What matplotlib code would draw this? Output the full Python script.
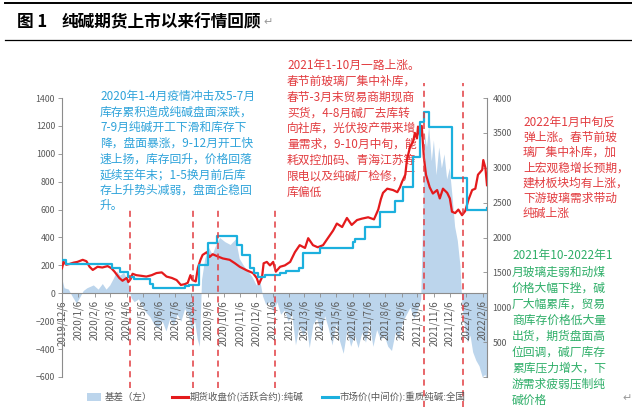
import matplotlib
matplotlib.use("Agg")
import matplotlib.pyplot as plt
import pandas as pd
from matplotlib.lines import Line2D
from matplotlib.patches import Rectangle
from matplotlib.transforms import blended_transform_factory

plt.rcParams["font.family"] = ["Noto Sans CJK SC", "DejaVu Sans"]

# ---- data ----------------------------------------------------------------
FUT_DATES = [
    "2019-12-06", "2019-12-09", "2019-12-14", "2019-12-20", "2019-12-28",
    "2020-01-04", "2020-01-14", "2020-01-21", "2020-01-27", "2020-02-02",
    "2020-02-11", "2020-02-20", "2020-03-01", "2020-03-08", "2020-03-14",
    "2020-03-23", "2020-03-29", "2020-04-06", "2020-04-09", "2020-04-13",
    "2020-04-17", "2020-04-24", "2020-05-04", "2020-05-13", "2020-05-23",
    "2020-06-01", "2020-06-11", "2020-06-20", "2020-06-30", "2020-07-09",
    "2020-07-17", "2020-07-24", "2020-07-30", "2020-08-04", "2020-08-08",
    "2020-08-14", "2020-08-18", "2020-08-23", "2020-08-27", "2020-09-04",
    "2020-09-09", "2020-09-15", "2020-09-24", "2020-10-04", "2020-10-17",
    "2020-10-27", "2020-11-05", "2020-11-18", "2020-11-30", "2020-12-07",
    "2020-12-11", "2020-12-17", "2020-12-20", "2020-12-26", "2021-01-01",
    "2021-01-07", "2021-01-12", "2021-01-20", "2021-01-29", "2021-02-08",
    "2021-02-17", "2021-02-26", "2021-03-08", "2021-03-14", "2021-03-23",
    "2021-04-01", "2021-04-11", "2021-04-20", "2021-04-30", "2021-05-07",
    "2021-05-17", "2021-05-26", "2021-06-04", "2021-06-14", "2021-06-23",
    "2021-07-05", "2021-07-16", "2021-07-24", "2021-07-29", "2021-08-02",
    "2021-08-10", "2021-08-21", "2021-08-29", "2021-09-03", "2021-09-07",
    "2021-09-13", "2021-09-16", "2021-09-22", "2021-09-28", "2021-10-01",
    "2021-10-05", "2021-10-07", "2021-10-11", "2021-10-14", "2021-10-18",
    "2021-10-22", "2021-10-29", "2021-11-04", "2021-11-12", "2021-11-17",
    "2021-11-23", "2021-12-01", "2021-12-06", "2021-12-10", "2021-12-16",
    "2021-12-22", "2021-12-29", "2022-01-04", "2022-01-10", "2022-01-17",
    "2022-01-23", "2022-01-28", "2022-02-05", "2022-02-07", "2022-02-11",
    "2022-02-14",
]
FUT_PRICE = [
    1560, 1650, 1610, 1620, 1640,
    1650, 1680, 1660, 1580, 1535,
    1580, 1570, 1590, 1560, 1510,
    1420, 1380, 1420, 1360, 1400,
    1480, 1460, 1450, 1440, 1460,
    1490, 1500, 1440, 1420, 1390,
    1320, 1330, 1350, 1460, 1390,
    1370, 1560, 1680, 1750, 1790,
    1720, 1760, 1730, 1700, 1680,
    1630, 1580, 1530, 1490, 1420,
    1330, 1430, 1630, 1650, 1600,
    1650, 1510, 1580, 1600, 1650,
    1790, 1890, 1850, 1990, 1890,
    1860, 1890, 1990, 2100, 2200,
    2150, 2280, 2180, 2250, 2270,
    2290, 2260, 2400, 2550, 2640,
    2700, 2680, 2650, 2720, 2800,
    2900, 3110, 3300, 3380, 3500,
    3420, 3590, 3450, 3600, 3150,
    2900, 2720, 2630, 2680, 2560,
    2700, 2640, 2560, 2370, 2350,
    2400, 2320, 2380, 2540, 2680,
    2700, 2900, 2970, 3110, 3000,
    2750,
]

SPOT_DATES = [
    "2019-12-06", "2019-12-13", "2020-03-10", "2020-03-24", "2020-04-08",
    "2020-04-20", "2020-05-20", "2020-05-26", "2020-07-24", "2020-08-01",
    "2020-08-21", "2020-09-06", "2020-09-24", "2020-10-31", "2020-11-09",
    "2020-11-24", "2020-12-01", "2020-12-10", "2020-12-22", "2021-01-20",
    "2021-02-01", "2021-02-24", "2021-03-05", "2021-04-06", "2021-06-06",
    "2021-06-10", "2021-06-29", "2021-07-27", "2021-08-25", "2021-09-09",
    "2021-09-28", "2021-10-11", "2021-10-18", "2021-10-27", "2021-12-10",
    "2022-01-08", "2022-02-14",
]
SPOT_PRICE = [
    1680, 1620, 1560, 1510, 1430,
    1400, 1330, 1270, 1300, 1320,
    1600, 1920, 2020, 1890, 1750,
    1560, 1490, 1440, 1460, 1490,
    1520, 1560, 1780, 1850, 1940,
    1980, 2150, 2370, 2530, 2720,
    3150, 3650, 3800, 3580, 2850,
    2400, 2420,
]

BASIS_DATES = [
    "2019-12-06", "2019-12-10", "2019-12-18", "2019-12-25", "2020-01-02",
    "2020-01-08", "2020-01-15", "2020-01-22", "2020-02-03", "2020-02-12",
    "2020-02-20", "2020-02-27", "2020-03-05", "2020-03-12", "2020-03-18",
    "2020-03-24", "2020-03-31", "2020-04-07", "2020-04-14", "2020-04-20",
    "2020-04-28", "2020-05-06", "2020-05-13", "2020-05-20", "2020-05-27",
    "2020-06-04", "2020-06-12", "2020-06-19", "2020-06-26", "2020-07-03",
    "2020-07-10", "2020-07-17", "2020-07-24", "2020-07-31", "2020-08-06",
    "2020-08-12", "2020-08-17", "2020-08-21", "2020-08-25", "2020-08-31",
    "2020-09-07", "2020-09-14", "2020-09-21", "2020-09-28", "2020-10-08",
    "2020-10-18", "2020-10-28", "2020-11-04", "2020-11-12", "2020-11-20",
    "2020-11-28", "2020-12-06", "2020-12-12", "2020-12-18", "2020-12-24",
    "2020-12-31", "2021-01-07", "2021-01-14", "2021-01-21", "2021-01-28",
    "2021-02-04", "2021-02-11", "2021-02-18", "2021-02-25", "2021-03-04",
    "2021-03-11", "2021-03-16", "2021-03-23", "2021-03-30", "2021-04-07",
    "2021-04-14", "2021-04-21", "2021-04-28", "2021-05-05", "2021-05-12",
    "2021-05-19", "2021-05-26", "2021-06-02", "2021-06-09", "2021-06-16",
    "2021-06-23", "2021-06-30", "2021-07-07", "2021-07-14", "2021-07-21",
    "2021-07-28", "2021-08-04", "2021-08-11", "2021-08-18", "2021-08-25",
    "2021-09-01", "2021-09-08", "2021-09-15", "2021-09-22", "2021-09-29",
    "2021-10-06", "2021-10-12", "2021-10-15", "2021-10-19", "2021-10-23",
    "2021-10-27", "2021-11-01", "2021-11-05", "2021-11-10", "2021-11-15",
    "2021-11-20", "2021-11-25", "2021-11-30", "2021-12-05", "2021-12-10",
    "2021-12-15", "2021-12-20", "2021-12-25", "2021-12-29", "2022-01-03",
    "2022-01-08", "2022-01-13", "2022-01-18", "2022-01-24", "2022-01-30",
    "2022-02-05", "2022-02-10", "2022-02-14",
]
BASIS = [
    100, 40, 30, -20, -70,
    -30, 20, 40, 60, 30,
    70, 30, 60, 110, 160,
    130, 150, 100, -30, -60,
    -40, -100, -140, -170, -220,
    -250, -200, -270, -180, -230,
    -150, -200, -110, -160, -250,
    -200, -330, -380, 100, 250,
    330, 280, 350, 400, 370,
    350, 390, 250, 200, 160,
    120, 60, 110, -20, -80,
    -60, -130, -60, -150, -120,
    -200, -150, -370, -230, -300,
    -250, -390, -220, -180, -280,
    -160, -250, -370, -220, -340,
    -430, -260, -380, -300, -390,
    -280, -350, -220, -380, -260,
    -330, -300, -380, -410, -280,
    -330, -200, -150, -100, -180,
    -120, -40, 400, 1150, 1050,
    1200, 950, 1100, 850, 1050,
    900, 1000, 820, 900, 700,
    480, 380, 200, -100, -250,
    -350, -300, -420, -480, -520,
    -600, -580, -640,
]

EVENT_DATES = ["2020-04-12", "2020-08-08", "2020-09-25", "2021-01-10",
               "2021-10-18", "2021-12-30"]
EVENT_SPANS = [(208, 388), (208, 388), (208, 388), (208, 388), (83, 407), (83, 407)]

TEXT_BLUE = [
    "2020年1-4月疫情冲击及5-7月",
    "库存累积造成纯碱盘面深跌，",
    "7-9月纯碱开工下滑和库存下",
    "降，盘面暴涨，9-12月开工快",
    "速上扬，库存回升，价格回落",
    "延续至年末；1-5换月前后库",
    "存上升势头减弱，盘面企稳回",
    "升。",
]
TEXT_RED_MID = [
    "2021年1-10月一路上涨。",
    "春节前玻璃厂集中补库，",
    "春节-3月末贸易商期现商",
    "买货，4-8月碱厂去库转",
    "向社库，光伏投产带来增",
    "量需求，9-10月中旬，能",
    "耗双控加码、青海江苏等",
    "限电以及纯碱厂检修，厂",
    "库偏低",
]
TEXT_RED_RIGHT = [
    "2022年1月中旬反",
    "弹上涨。春节前玻",
    "璃厂集中补库，加",
    "上宏观稳增长预期，",
    "建材板块均有上涨，",
    "下游玻璃需求带动",
    "纯碱上涨",
]
TEXT_GREEN = [
    "2021年10-2022年1",
    "月玻璃走弱和动煤",
    "价格大幅下挫，碱",
    "厂大幅累库，贸易",
    "商库存价格低大量",
    "出货，期货盘面高",
    "位回调，碱厂库存",
    "累库压力增大，下",
    "游需求疲弱压制纯",
    "碱价格",
]

C_RED = "#e41a1c"
C_BLUE = "#1cb0de"
C_FILL = "#bcd5ec"
C_GREY = "#595959"
C_TXT_RED = "#e23c40"
C_TXT_BLUE = "#2fa3da"
C_TXT_GREEN = "#2eae68"

W, H = 632, 407


def fx(px):
    return px / W


def fy(py):
    return 1 - py / H


fut_d = pd.to_datetime(FUT_DATES)
spot_d = pd.to_datetime(SPOT_DATES)
basis_d = pd.to_datetime(BASIS_DATES)
ticks = pd.date_range("2019-12-06", "2022-02-06", freq=pd.DateOffset(months=1))

fig = plt.figure(figsize=(6.32, 4.07), dpi=100)
ax = fig.add_axes([fx(62), fy(377), fx(487) - fx(62), fy(98) - fy(377)])
ax2 = ax.twinx()

ax.fill_between(basis_d, 0, BASIS, color=C_FILL, lw=0, zorder=1)
ax2.plot(fut_d, FUT_PRICE, color=C_RED, lw=1.6, zorder=3)
ax2.step(spot_d, SPOT_PRICE, where="post", color=C_BLUE, lw=1.6, zorder=4)

ax.set_xlim(pd.Timestamp("2019-12-06"), pd.Timestamp("2022-02-14"))
ax.set_ylim(-600, 1400)
ax.set_yticks(range(-600, 1401, 200))
ax2.set_ylim(0, 4000)
ax2.set_yticks(range(0, 4001, 500))
ax2.set_yticklabels(["" if v == 0 else str(v) for v in range(0, 4001, 500)])

ax.set_xticks(ticks)
ax.set_xticklabels([f"{d.year}/{d.month}/{d.day}" for d in ticks])
ax.spines["bottom"].set_position(("data", 0))
for s in ("top", "right"):
    ax.spines[s].set_visible(False)
for s in ("top", "left", "bottom"):
    ax2.spines[s].set_visible(False)
for a, s in ((ax, "left"), (ax, "bottom"), (ax2, "right")):
    a.spines[s].set_color("#8c8c8c")
    a.spines[s].set_linewidth(0.8)

ax.tick_params(axis="y", labelsize=6.3, colors="#8c8c8c", labelcolor=C_GREY,
               length=3, width=0.6, direction="out", pad=2)
ax.tick_params(axis="x", length=3, width=0.6, colors="#8c8c8c",
               labelcolor=C_GREY, labelsize=7, labelrotation=90, pad=2)
ax2.tick_params(axis="y", labelsize=6.3, colors="#8c8c8c", labelcolor=C_GREY,
                length=3, width=0.6, direction="in", pad=4)

# event markers
tr = blended_transform_factory(ax2.transData, fig.transFigure)
for d, (y0, y1) in zip(EVENT_DATES, EVENT_SPANS):
    x = pd.Timestamp(d)
    ax2.plot([x, x], [fy(y1), fy(y0)], transform=tr, color=C_TXT_RED,
             lw=1.1, ls=(0, (4, 3)), clip_on=False, zorder=5)


def text_block(lines, x_px, y_px, step, color):
    for i, s in enumerate(lines):
        ax.text(fx(x_px), fy(y_px + i * step), s, transform=fig.transFigure,
                fontsize=8.5, color=color, ha="left", va="center",
                clip_on=False, zorder=2)


text_block(TEXT_BLUE, 100, 96, 15.7, C_TXT_BLUE)
text_block(TEXT_RED_MID, 287, 65, 15.9, C_TXT_RED)
text_block(TEXT_RED_RIGHT, 523, 122, 15.3, C_TXT_RED)
text_block(TEXT_GREEN, 512, 256, 16.0, C_TXT_GREEN)

# title with rules
fig.add_artist(Line2D([fx(5), 1], [fy(3), fy(3)], color="black", lw=1.4))
fig.add_artist(Line2D([fx(5), 1], [fy(40), fy(40)], color="black", lw=0.9))
fig.text(fx(17), fy(22), "图 1", fontsize=12, fontweight="bold", va="center")
fig.text(fx(62), fy(22), "纯碱期货上市以来行情回顾", fontsize=12,
         fontweight="bold", va="center")
fig.text(fx(263), fy(22), "↵", fontsize=8, color="#9a9a9a", va="center",
         family="DejaVu Sans")
fig.text(fx(622), fy(398), "↵", fontsize=8, color="#9a9a9a", va="center",
         family="DejaVu Sans")

# legend
fig.add_artist(Rectangle((fx(87), fy(401)), fx(14), fy(393) - fy(401),
                         color=C_FILL, lw=0))
fig.text(fx(105), fy(397), "基差（左）", fontsize=6.8, color=C_GREY, va="center")
fig.add_artist(Line2D([fx(172), fx(188)], [fy(397), fy(397)], color=C_RED, lw=2.2))
fig.text(fx(190), fy(397), "期货收盘价(活跃合约):纯碱", fontsize=6.8,
         color=C_GREY, va="center")
fig.add_artist(Line2D([fx(322), fx(338)], [fy(397), fy(397)], color=C_BLUE, lw=2.2))
fig.text(fx(340), fy(397), "市场价(中间价):重质纯碱:全国", fontsize=6.8,
         color=C_GREY, va="center")

fig.savefig("out.png", dpi=100)
